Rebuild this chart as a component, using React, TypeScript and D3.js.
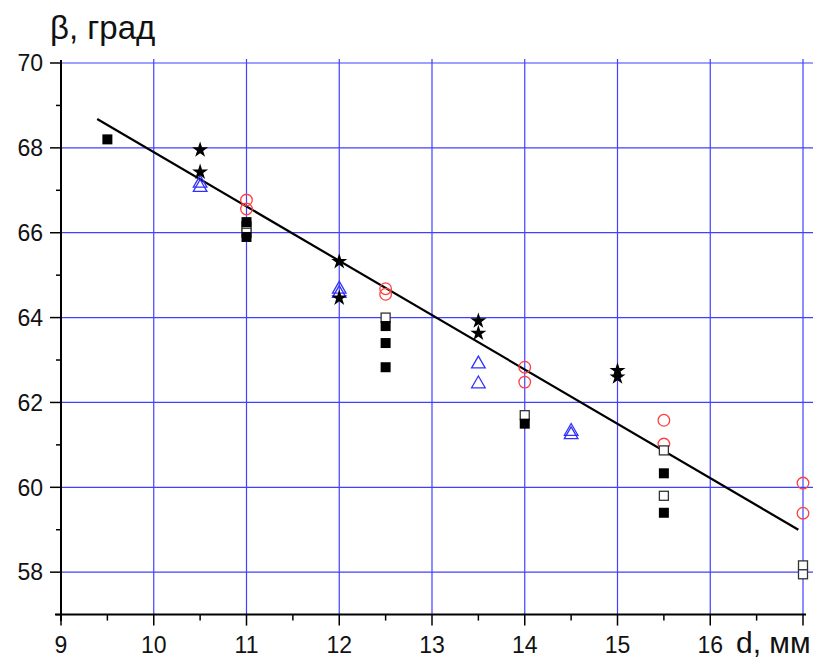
import React from "react";
import * as d3 from "d3";

const xTicks = [9, 10, 11, 12, 13, 14, 15, 16, 17];
const xTickLabels = ["9", "10", "11", "12", "13", "14", "15", "16", ""];
const yTicks = [58, 60, 62, 64, 66, 68, 70];

const filledSquares: [number, number][] = [
  [9.5, 68.2], [11, 66.25], [11, 65.9], [12.5, 63.8], [12.5, 63.4], [12.5, 62.83],
  [14, 61.5], [15.5, 60.33], [15.5, 59.4],
];
const openSquares: [number, number][] = [
  [11, 66.15], [11, 66.0], [12.5, 64.0], [14, 61.7], [15.5, 60.87], [15.5, 59.8],
  [17, 58.16], [17, 57.95],
];
const stars: [number, number][] = [
  [10.5, 67.95], [10.5, 67.43], [12, 65.32], [12, 64.46], [13.5, 63.92], [13.5, 63.63],
  [15, 62.75], [15, 62.6],
];
const triangles: [number, number][] = [
  [10.5, 67.18], [10.5, 67.08], [12, 64.68], [12, 64.58], [13.5, 62.92], [13.5, 62.45],
  [14.5, 61.33], [14.5, 61.25],
];
const circles: [number, number][] = [
  [11, 66.77], [11, 66.56], [12.5, 64.68], [12.5, 64.55], [14, 62.83], [14, 62.48],
  [15.5, 61.58], [15.5, 61.02], [17, 60.1], [17, 59.39],
];
const fitLine: [number, number][] = [
  [9.39, 68.68], [16.95, 59.0],
];

export default function App() {
  const W = 824, H = 661;
  const x = d3.scaleLinear().domain([9, 17]).range([61, 803]);
  const y = d3.scaleLinear().domain([57, 70]).range([614.6, 63]);
  const gridBlue = "#4040ff";
  const font = "'Liberation Sans', Arial, sans-serif";
  const line = d3.line<[number, number]>().x(d => x(d[0])).y(d => y(d[1]));
  const star = d3.symbol().type(d3.symbolStar).size(80)();
  const tri = d3.symbol().type(d3.symbolTriangle).size(80)();
  const xMinor = d3.range(9.5, 17, 1);
  const yMinor = d3.range(57, 70, 2);
  return (
    <svg width={W} height={H} style={{ position: "absolute", left: 0, top: 0 }}>
      <rect width={W} height={H} fill="white" />
      {/* grid */}
      {xTicks.slice(1).map(t => (
        <line key={"gx" + t} x1={x(t)} x2={x(t)} y1={59} y2={614} stroke={gridBlue} strokeWidth={1.2} />
      ))}
      {yTicks.map(t => (
        <line key={"gy" + t} x1={61} x2={813} y1={y(t)} y2={y(t)} stroke={gridBlue} strokeWidth={1.2} />
      ))}
      {/* axes */}
      <line x1={61} x2={61} y1={60} y2={621} stroke="black" strokeWidth={2} />
      <line x1={55} x2={806} y1={y(57)} y2={y(57)} stroke="black" strokeWidth={2} />
      {yTicks.map(t => (
        <g key={"yt" + t}>
          <line x1={50} x2={61} y1={y(t)} y2={y(t)} stroke="black" strokeWidth={1.5} />
          <text x={43} y={y(t)} dy="0.36em" textAnchor="end" fontFamily={font} fontSize={23} fill="#111">{t}</text>
        </g>
      ))}
      {yMinor.map(t => (
        <line key={"ym" + t} x1={56} x2={61} y1={y(t)} y2={y(t)} stroke="black" strokeWidth={1.5} />
      ))}
      {xTicks.map((t, i) => (
        <g key={"xt" + t}>
          <line x1={x(t)} x2={x(t)} y1={y(57)} y2={y(57) + 11} stroke="black" strokeWidth={1.5} />
          <text x={x(t)} y={653} textAnchor="middle" fontFamily={font} fontSize={23} fill="#111">{xTickLabels[i]}</text>
        </g>
      ))}
      {xMinor.map(t => (
        <line key={"xm" + t} x1={x(t)} x2={x(t)} y1={y(57)} y2={y(57) + 6} stroke="black" strokeWidth={1.5} />
      ))}
      <text x={50} y={39} fontFamily={font} fontSize={33} fill="#111">β, град</text>
      <text x={736} y={653} fontFamily={font} fontSize={30} fill="#111">d, мм</text>
      {/* fit line */}
      <path d={line(fitLine) || ""} stroke="black" strokeWidth={2.2} fill="none" />
      {/* markers */}
      {circles.map((d, i) => (
        <circle key={"c" + i} cx={x(d[0])} cy={y(d[1])} r={5.8} fill="none" stroke="#ff4040" strokeWidth={1.3} />
      ))}
      {triangles.map((d, i) => (
        <path key={"t" + i} d={tri || ""} transform={`translate(${x(d[0])},${y(d[1]) + 0.5})`} fill="none" stroke="#3030ff" strokeWidth={1.3} />
      ))}
      {openSquares.map((d, i) => (
        <rect key={"os" + i} x={x(d[0]) - 4.5} y={y(d[1]) - 4.5} width={9} height={9} fill="white" stroke="#333" strokeWidth={1.3} />
      ))}
      {filledSquares.map((d, i) => (
        <rect key={"fs" + i} x={x(d[0]) - 5} y={y(d[1]) - 5} width={10} height={10} fill="black" />
      ))}
      {stars.map((d, i) => (
        <path key={"s" + i} d={star || ""} transform={`translate(${x(d[0])},${y(d[1])})`} fill="black" />
      ))}
    </svg>
  );
}
